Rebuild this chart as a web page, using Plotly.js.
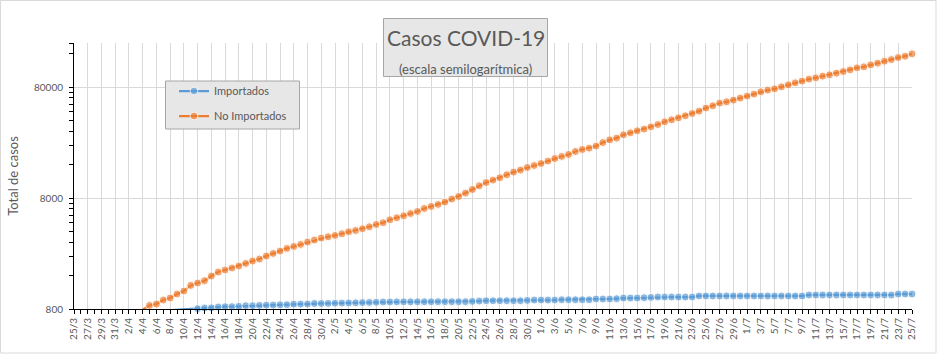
<!DOCTYPE html>
<html>
<head>
<meta charset="utf-8">
<script src="https://cdn.plot.ly/plotly-3.0.1.min.js"></script>
<style>
html,body{margin:0;padding:0;background:#fff;}
#chart{width:937px;height:354px;}
</style>
</head>
<body>
<div id="chart"></div>
<script>
// ---- DATA ----
const categories = [
 "25/3","26/3","27/3","28/3","29/3","30/3","31/3",
 "1/4","2/4","3/4","4/4","5/4","6/4","7/4","8/4","9/4","10/4","11/4","12/4","13/4","14/4","15/4","16/4","17/4","18/4","19/4","20/4","21/4","22/4","23/4","24/4","25/4","26/4","27/4","28/4","29/4","30/4",
 "1/5","2/5","3/5","4/5","5/5","6/5","7/5","8/5","9/5","10/5","11/5","12/5","13/5","14/5","15/5","16/5","17/5","18/5","19/5","20/5","21/5","22/5","23/5","24/5","25/5","26/5","27/5","28/5","29/5","30/5","31/5",
 "1/6","2/6","3/6","4/6","5/6","6/6","7/6","8/6","9/6","10/6","11/6","12/6","13/6","14/6","15/6","16/6","17/6","18/6","19/6","20/6","21/6","22/6","23/6","24/6","25/6","26/6","27/6","28/6","29/6","30/6",
 "1/7","2/7","3/7","4/7","5/7","6/7","7/7","8/7","9/7","10/7","11/7","12/7","13/7","14/7","15/7","16/7","17/7","18/7","19/7","20/7","21/7","22/7","23/7","24/7","25/7"
];

const importados = [
 null,null,null,null,null,null,null,null,null,null,
 null,null,null,null,780,788,794,800,806,817,
 820,834,839,840,845,856,857,862,867,868,
 873,875,885,886,887,897,897,899,903,905,
 908,910,914,917,920,926,927,928,929,929,
 930,930,930,931,931,931,931,931,937,944,
 950,950,950,950,950,950,956,964,964,964,
 964,970,970,970,970,970,985,985,985,991,
 1005,1005,1005,1011,1018,1026,1026,1026,1026,1026,
 1026,1048,1048,1048,1048,1048,1048,1048,1048,1048,
 1048,1048,1048,1048,1048,1048,1048,1070,1070,1070,
 1070,1070,1070,1070,1070,1070,1070,1070,1070,1070,
 1092,1092,1092
];

const noImportados = [
 null,null,null,null,null,null,null,null,null,null,
 790,862,887,964,1005,1092,1162,1306,1372,1439,
 1587,1723,1797,1872,1952,2061,2165,2256,2400,2535,
 2664,2813,2930,3055,3212,3347,3490,3584,3683,3814,
 3976,4083,4232,4411,4625,4794,5100,5316,5543,5809,
 6058,6449,6724,7010,7362,7839,8272,8873,9563,10327,
 11056,11618,12192,12976,13722,14304,15096,15736,16400,17234,
 18192,18970,19780,21040,21930,22560,23520,25330,26800,27760,
 29740,30990,32310,33470,35100,36810,38960,40600,42330,44120,
 46260,48620,51790,54300,57430,58970,61100,63700,66410,69220,
 72630,75220,77280,80560,83970,87520,90650,94490,97060,100500,
 103300,107000,110600,114600,119400,121900,127100,131600,137100,141800,
 147800,152100,159700
];

const yTickVals = [800, 8000, 80000];
const yTickText = ["800", "8000", "80000"];
const seriesNames = ["Importados", "No Importados"];

// ---- LAYOUT HELPERS ----
const W = 937, H = 354;
const PL = 74, PR = 912, PT = 43, PB = 309;
const px = v => (v - PL) / (PR - PL);
const py = v => (PB - v) / (PB - PT);
const YMIN = 800, YMAX = 200000;

const xIdx = categories.map((_, i) => i);
const evenIdx = xIdx.filter(i => i % 2 === 0);
const evenText = evenIdx.map(i => categories[i]);

const minorY = [];
[800, 8000, 80000].forEach(b => { for (let k = 2; k <= 9; k++) { const v = b * k; if (v <= YMAX) minorY.push(v); } });
minorY.push(200000);

const MS = 8;
const sizeFor = arr => arr.map(v => (v !== null && v < YMIN) ? 0 : MS);

const font = "Lato, 'Open Sans', sans-serif";
const txt = "#595959";

const traces = [
 {
  x: xIdx, y: importados, name: seriesNames[0], type: "scatter", mode: "lines+markers",
  line: {color: "#5B9BD5", width: 2.25},
  marker: {color: "#5B9BD5", size: sizeFor(importados), symbol: "circle"},
  cliponaxis: false, legendgroup: "a", hoverinfo: "skip"
 },
 {
  x: xIdx, y: noImportados, name: seriesNames[1], type: "scatter", mode: "lines+markers",
  line: {color: "#ED7D31", width: 2.25},
  marker: {color: "#ED7D31", size: sizeFor(noImportados), symbol: "circle"},
  cliponaxis: false, legendgroup: "b", hoverinfo: "skip"
 }
];

const layout = {
 width: W, height: H,
 margin: {l: PL, r: W - PR, t: PT, b: H - PB, pad: 0},
 paper_bgcolor: "#fff", plot_bgcolor: "#fff",
 font: {family: font, color: txt, size: 10},
 showlegend: true,
 legend: {
  x: px(174), y: py(76.5), xanchor: "left", yanchor: "top",
  bgcolor: "rgba(0,0,0,0)", borderwidth: 0,
  font: {family: font, size: 11, color: txt},
  tracegroupgap: 6, itemwidth: 30, itemclick: false
 },
 xaxis: {
  type: "linear", range: [0, categories.length - 1], fixedrange: true,
  tickmode: "array", tickvals: evenIdx, ticktext: evenText, tickangle: -90,
  ticks: "outside", ticklen: 4, tickcolor: "#000", tickwidth: 1,
  tickfont: {family: font, size: 10, color: txt},
  showline: true, linecolor: "#000", linewidth: 1,
  showgrid: true, gridcolor: "#d9d9d9", gridwidth: 1, zeroline: false,
  minor: {tickmode: "array", tickvals: xIdx, ticks: "outside", ticklen: 4, tickcolor: "#000", tickwidth: 1, showgrid: false}
 },
 yaxis: {
  type: "log", range: [Math.log10(YMIN), Math.log10(YMAX)], fixedrange: true,
  tickmode: "array", tickvals: yTickVals, ticktext: yTickText,
  ticks: "outside", ticklen: 4, tickcolor: "#000", tickwidth: 1,
  ticklabelstandoff: 4,
  tickfont: {family: font, size: 10, color: txt},
  showline: true, linecolor: "#000", linewidth: 1,
  showgrid: true, gridcolor: "#d9d9d9", gridwidth: 1, zeroline: false,
  minor: {tickmode: "array", tickvals: minorY, ticks: "outside", ticklen: 4, tickcolor: "#000", tickwidth: 1, showgrid: false},
  title: {text: "Total de casos", font: {family: font, size: 13, color: txt}, standoff: 12}
 },
 shapes: [
  {type: "rect", xref: "paper", yref: "paper", x0: px(0.5), x1: px(936), y0: py(353), y1: py(0.5),
   line: {color: "#d9d9d9", width: 1}, fillcolor: "rgba(0,0,0,0)", layer: "below"},
  {type: "rect", xref: "paper", yref: "paper", x0: px(383.5), x1: px(547.5), y0: py(76.5), y1: py(18.5),
   line: {color: "#a6a6a6", width: 1}, fillcolor: "#e7e7e7", layer: "above"},
  {type: "rect", xref: "paper", yref: "paper", x0: px(165.5), x1: px(299.5), y0: py(129), y1: py(81),
   line: {color: "#a6a6a6", width: 1}, fillcolor: "#e7e7e7", layer: "above"}
 ],
 annotations: [
  {text: "Casos COVID-19", xref: "paper", yref: "paper", x: px(465.5), y: py(37.5),
   xanchor: "center", yanchor: "middle", showarrow: false,
   font: {family: font, size: 21, color: txt}},
  {text: "(escala semilogarítmica)", xref: "paper", yref: "paper", x: px(465.5), y: py(69),
   xanchor: "center", yanchor: "middle", showarrow: false,
   font: {family: font, size: 13, color: txt}}
 ]
};

Plotly.newPlot("chart", traces, layout, {displayModeBar: false, staticPlot: true});
</script>
</body>
</html>
